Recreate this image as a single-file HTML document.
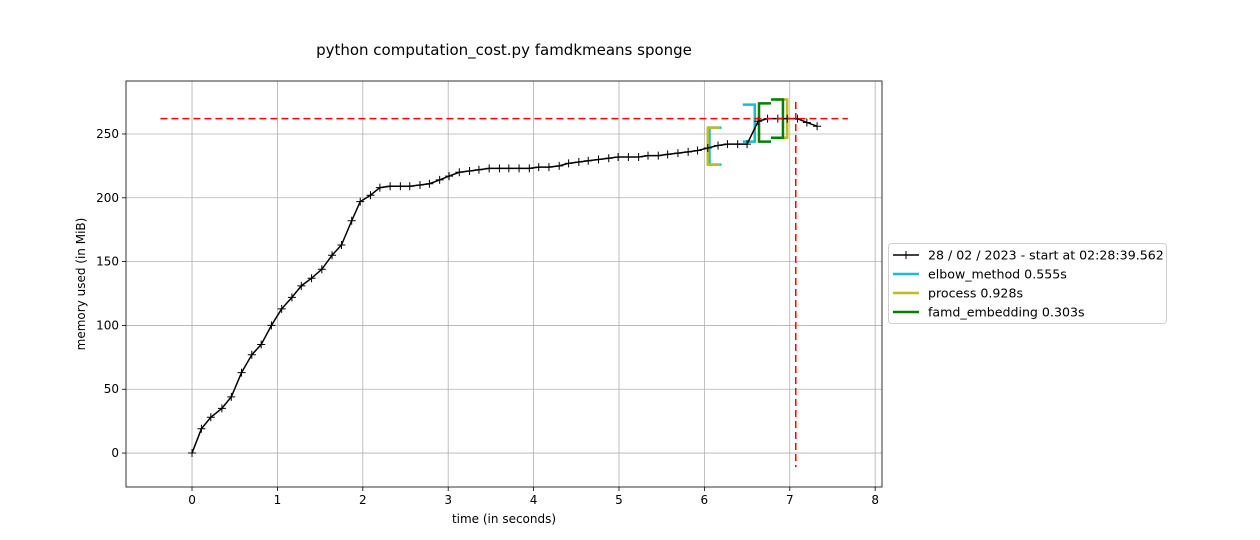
<!DOCTYPE html>
<html><head><meta charset="utf-8"><style>
body{margin:0;background:#fff;}
svg{display:block;font-family:"DejaVu Sans","Liberation Sans",sans-serif;}
</style></head><body>
<svg id="chart" width="1260" height="540" xmlns="http://www.w3.org/2000/svg"></svg>
<script>
const times=[0,0.11,0.22,0.35,0.46,0.58,0.70,0.81,0.93,1.05,1.17,1.28,1.40,1.52,1.64,1.75,1.87,1.97,2.09,2.20,2.32,2.44,2.55,2.67,2.78,2.90,3.01,3.13,3.25,3.36,3.48,3.60,3.71,3.83,3.95,4.06,4.18,4.30,4.41,4.53,4.64,4.76,4.88,4.99,5.11,5.23,5.34,5.46,5.57,5.69,5.81,5.92,6.04,6.16,6.27,6.39,6.50,6.63,6.74,6.86,6.97,7.09,7.20,7.32];
const memory=[0,19,28,35,44,63,77,85,100,113,122,131,137,144,155,163,182,197,202,208,209,209,209,210,211,214,217,220,221,222,223,223,223,223,223,224,224,225,227,228,229,230,231,232,232,232,233,233,234,235,236,237,239,241,242,242,242,260,262,262,262,262,259,256];
const xTicks=[0,1,2,3,4,5,6,7,8];
const yTicks=[0,50,100,150,200,250];
const funcNames=["elbow_method","process","famd_embedding"];
const funcColors=["#17becf","#bcbd22","#008000"];
const funcStart=[6.06,6.04,6.64];
const funcStartRange=[[226,255],[226,255],[244,274]];
const funcEnd=[6.59,6.97,6.92];
const funcEndRange=[[244,273],[247,277],[247,277]];
const maxMem=262, maxT=7.07;

const L=126,R=882,T=81,B=487;
const xmin=-0.773,xmax=8.08,ymin=-26.6,ymax=291.5;
const X=t=>L+(t-xmin)/(xmax-xmin)*(R-L);
const Y=v=>B-(v-ymin)/(ymax-ymin)*(B-T);
const svg=document.getElementById('chart');
const NS="http://www.w3.org/2000/svg";
function mk(tag,attrs,parent){const e=document.createElementNS(NS,tag);for(const k in attrs)e.setAttribute(k,attrs[k]);(parent||svg).appendChild(e);return e;}

let t=mk('text',{x:504,y:55,'text-anchor':'middle','font-size':15,fill:'#000'});t.textContent='python computation_cost.py famdkmeans sponge';



xTicks.forEach(v=>{
 const g=mk('line',{x1:X(v),x2:X(v),y1:T,y2:B,stroke:'#b0b0b0','stroke-width':0.8});
 
 
 mk('line',{x1:X(v),x2:X(v),y1:B,y2:B+4,stroke:'#000','stroke-width':0.8});
 const l=mk('text',{x:X(v),y:B+17,'text-anchor':'middle','font-size':12});l.textContent=v;
 
 
});
yTicks.forEach(v=>{
 const g=mk('line',{x1:L,x2:R,y1:Y(v),y2:Y(v),stroke:'#b0b0b0','stroke-width':0.8});
 
 
 mk('line',{x1:L-4,x2:L,y1:Y(v),y2:Y(v),stroke:'#000','stroke-width':0.8});
 const l=mk('text',{x:L-7,y:Y(v)+4,'text-anchor':'end','font-size':12});l.textContent=v;
 
 
});

funcNames.forEach((n,i)=>{
 const c=funcColors[i];
 const xs=X(funcStart[i]),xe=X(funcEnd[i]),w=12;
 const [a,b]=funcStartRange[i],[c2,d]=funcEndRange[i];
 const p1=mk('polyline',{points:`${xs+w},${Y(a)} ${xs},${Y(a)} ${xs},${Y(b)} ${xs+w},${Y(b)}`,fill:'none',stroke:c,'stroke-width':2.5});
 
 
 const p2=mk('polyline',{points:`${xe-w},${Y(c2)} ${xe},${Y(c2)} ${xe},${Y(d)} ${xe-w},${Y(d)}`,fill:'none',stroke:c,'stroke-width':2.5});
 
 
});

const pts=times.map((tt,i)=>X(tt)+','+Y(memory[i])).join(' ');
const line=mk('polyline',{points:pts,fill:'none',stroke:'#000','stroke-width':1.5});


times.forEach((tt,i)=>{
 const x=X(tt),y=Y(memory[i]);
 const m=mk('path',{d:`M${x-4},${y}H${x+4}M${x},${y-4}V${y+4}`,stroke:'#000','stroke-width':1});
 
 
});

const h=mk('line',{x1:X(-0.37),x2:X(7.68),y1:Y(maxMem),y2:Y(maxMem),stroke:'#ff0000','stroke-width':1.5,'stroke-dasharray':'7,4'});


const v=mk('line',{x1:X(maxT),x2:X(maxT),y1:Y(275),y2:Y(-11),stroke:'#ff0000','stroke-width':1.5,'stroke-dasharray':'7,4'});



const frame=mk('rect',{x:L,y:T,width:R-L,height:B-T,fill:'none',stroke:'#000','stroke-width':0.8});



let xl=mk('text',{x:504,y:523,'text-anchor':'middle','font-size':12});xl.textContent='time (in seconds)';


let yl=mk('text',{x:85,y:284,'text-anchor':'middle','font-size':12,transform:'rotate(-90 85 284)'});yl.textContent='memory used (in MiB)';



const lg=mk('g',{});


mk('rect',{x:888.5,y:243.5,width:278,height:80,rx:3,fill:'#fff',stroke:'#d0d0d0'},lg);
const labels=['28 / 02 / 2023 - start at 02:28:39.562','elbow_method 0.555s','process 0.928s','famd_embedding 0.303s'];
const lcolors=['#000'].concat(funcColors);
labels.forEach((s,i)=>{
 const y=255+i*19;
 mk('line',{x1:893,x2:919,y1:y,y2:y,stroke:lcolors[i],'stroke-width':i?2.5:1.5},lg);
 if(i===0) mk('path',{d:`M902,${y}H910M906,${y-4}V${y+4}`,stroke:'#000'},lg);
 const tx=mk('text',{x:928,y:y+4.5,'font-size':12.6},lg);tx.textContent=s;
 
 
});
</script>
</body></html>
